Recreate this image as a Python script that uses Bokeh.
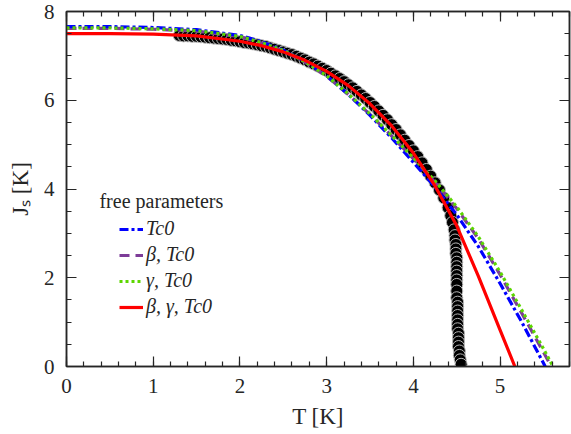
from bokeh.plotting import figure
from bokeh.models import (LinearAxis, SingleIntervalTicker, Legend, LegendItem,
                          Label, CustomJSTickFormatter, Range1d)
from bokeh.embed import file_html
from bokeh.resources import INLINE

# ---------------- data ----------------
T_data = [1.30, 1.35, 1.40, 1.45, 1.50, 1.55, 1.60, 1.65, 1.70, 1.75, 1.80, 1.85,
          1.90, 1.95, 2.00, 2.05, 2.10, 2.15, 2.20, 2.25, 2.30, 2.35, 2.40, 2.45,
          2.50, 2.55, 2.60, 2.65, 2.70, 2.75, 2.80, 2.85, 2.90, 2.95, 3.00, 3.05,
          3.10, 3.15, 3.20, 3.25, 3.30, 3.35, 3.40, 3.45, 3.50, 3.55, 3.60, 3.65,
          3.70, 3.75, 3.80, 3.85, 3.90, 3.95, 4.00, 4.05, 4.10, 4.15, 4.20, 4.25,
          4.30, 4.35, 4.40, 4.43, 4.45, 4.47,
          4.48, 4.48, 4.49, 4.49, 4.49, 4.50, 4.50, 4.50, 4.50, 4.50, 4.50, 4.50,
          4.50, 4.50, 4.51, 4.51, 4.51, 4.51, 4.51, 4.51, 4.51, 4.52, 4.52, 4.52,
          4.52, 4.53, 4.53, 4.54, 4.55]
J_data = [7.46, 7.45, 7.45, 7.44, 7.44, 7.43, 7.42, 7.41, 7.40, 7.39, 7.38, 7.37,
          7.35, 7.34, 7.32, 7.30, 7.29, 7.27, 7.25, 7.23, 7.21, 7.18, 7.15, 7.12,
          7.09, 7.06, 7.03, 6.99, 6.95, 6.91, 6.86, 6.82, 6.77, 6.72, 6.67, 6.61,
          6.55, 6.49, 6.42, 6.35, 6.28, 6.20, 6.12, 6.04, 5.95, 5.86, 5.76, 5.66,
          5.56, 5.45, 5.34, 5.22, 5.10, 4.98, 4.86, 4.73, 4.59, 4.44, 4.29, 4.14,
          3.98, 3.80, 3.58, 3.40, 3.25, 3.08,
          2.95, 2.85, 2.75, 2.65, 2.55, 2.45, 2.35, 2.25, 2.15, 2.05, 1.95, 1.85,
          1.70, 1.55, 1.45, 1.35, 1.25, 1.15, 1.05, 0.95, 0.85, 0.75, 0.65, 0.55,
          0.45, 0.35, 0.25, 0.15, 0.05]

T_fit = [0.0, 0.5, 1.0, 1.5, 2.0, 2.25, 2.5, 2.75, 3.0, 3.25, 3.5, 3.75, 4.0,
         4.25, 4.5, 4.75, 5.0, 5.25, 5.5]

# free parameter: Tc0
J_Tc0_T = T_fit[:-1] + [5.52]
J_Tc0 = [7.66, 7.66, 7.64, 7.59, 7.46, 7.32, 7.13, 6.88, 6.55, 6.13, 5.66, 5.15,
         4.60, 4.04, 3.42, 2.70, 1.87, 1.00, 0.0]

# free parameters: beta, Tc0
J_bTc0_T = T_fit + [5.59]
J_bTc0 = [7.62, 7.62, 7.60, 7.56, 7.43, 7.29, 7.11, 6.86, 6.54, 6.13, 5.68, 5.19,
          4.68, 4.15, 3.56, 2.88, 2.07, 1.20, 0.32, 0.0]

# free parameters: gamma, Tc0
J_gTc0_T = T_fit + [5.61]
J_gTc0 = [7.63, 7.63, 7.61, 7.57, 7.44, 7.30, 7.12, 6.87, 6.55, 6.14, 5.69, 5.20,
          4.70, 4.18, 3.60, 2.92, 2.13, 1.27, 0.40, 0.0]

# free parameters: beta, gamma, Tc0
J_bgTc0_T = [0.0, 0.5, 1.0, 1.5, 2.0, 2.25, 2.5, 2.75, 3.0, 3.25, 3.5, 3.75, 4.0,
             4.25, 4.5, 4.75, 5.0, 5.17]
J_bgTc0 = [7.50, 7.50, 7.49, 7.45, 7.33, 7.23, 7.09, 6.90, 6.65, 6.33, 5.92, 5.42,
           4.81, 4.07, 3.17, 2.03, 0.82, 0.0]

labels = ["Tc0", "β, Tc0", "γ, Tc0", "β, γ, Tc0"]
legend_title = "free parameters"

FONT = "Liberation Serif"
AX = "#262626"

p = figure(width=571, height=434, x_range=Range1d(0, 5.8), y_range=Range1d(0, 8),
           output_backend="svg", toolbar_location=None,
           min_border_left=66, min_border_right=2, min_border_top=11,
           min_border_bottom=68, background_fill_color="white",
           border_fill_color="white")
p.xgrid.visible = False
p.ygrid.visible = False
p.outline_line_color = AX
p.outline_line_width = 1.5

def style_axis(ax, ticker, show_labels):
    ax.ticker = ticker
    ax.major_tick_in = 10
    ax.major_tick_out = 0
    ax.minor_tick_in = 5
    ax.minor_tick_out = 0
    ax.axis_line_color = AX
    ax.axis_line_width = 1.5
    ax.major_tick_line_color = AX
    ax.minor_tick_line_color = AX
    ax.major_tick_line_width = 1.2
    ax.minor_tick_line_width = 1.2
    if show_labels:
        ax.major_label_text_font = FONT
        ax.major_label_text_font_size = "21px"
        ax.major_label_text_color = AX
        ax.major_label_standoff = 12
        ax.axis_label_text_font = FONT
        ax.axis_label_text_font_size = "23px"
        ax.axis_label_text_font_style = "normal"
        ax.axis_label_text_color = AX
        ax.axis_label_standoff = 8
    else:
        ax.formatter = CustomJSTickFormatter(code="return ''")
        ax.major_label_standoff = 0
        ax.major_label_text_font_size = "0px"

xt = lambda: SingleIntervalTicker(interval=1, num_minor_ticks=5)
yt = lambda: SingleIntervalTicker(interval=2, num_minor_ticks=4)

style_axis(p.xaxis[0], xt(), True)
style_axis(p.yaxis[0], yt(), True)
p.xaxis[0].axis_label = "T [K]"
p.yaxis[0].axis_label = "Jₛ [K]"

top = LinearAxis()
style_axis(top, xt(), False)
p.add_layout(top, "above")
right = LinearAxis()
style_axis(right, yt(), False)
p.add_layout(right, "right")

# data points
p.scatter(T_data, J_data, size=12, marker="circle", fill_color="black",
          line_color="#b8b8b8", line_width=1)

r_b = p.line(J_bTc0_T, J_bTc0, line_color="#7d3c98", line_width=3.2,
             line_dash="10 6")
r_t = p.line(J_Tc0_T, J_Tc0, line_color="#0000ff", line_width=3.2,
             line_dash="9 3 3 3")
r_g = p.line(J_gTc0_T, J_gTc0, line_color="#5cd600", line_width=3.2,
             line_dash="3 3")
r_r = p.line(J_bgTc0_T, J_bgTc0, line_color="#ff0000", line_width=3.2)

legend = Legend(items=[LegendItem(label=labels[0], renderers=[r_t]),
                       LegendItem(label=labels[1], renderers=[r_b]),
                       LegendItem(label=labels[2], renderers=[r_g]),
                       LegendItem(label=labels[3], renderers=[r_r])],
                location=(53, 48), padding=0, margin=0, border_line_color=None,
                background_fill_alpha=0, glyph_width=24, glyph_height=20,
                label_height=20, spacing=3, label_standoff=3,
                label_text_font=FONT, label_text_font_size="20px",
                label_text_font_style="italic", label_text_color=AX)
p.add_layout(legend, "center")

p.add_layout(Label(x=0.38, y=3.74, text=legend_title, text_font=FONT,
                   text_font_size="20px", text_color=AX,
                   text_baseline="alphabetic"))

open("out.html", "w").write(file_html(p, INLINE))
